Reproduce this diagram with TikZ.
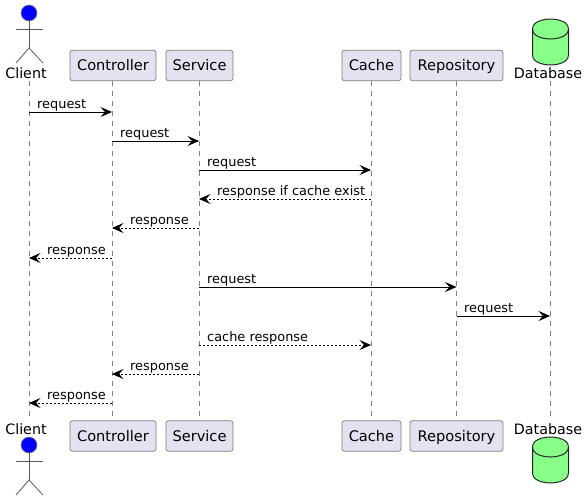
\documentclass[tikz,border=0pt]{standalone}
\usepackage{fontspec}
\setmainfont{DejaVu Sans}
\usetikzlibrary{arrows.meta}
\definecolor{partfill}{HTML}{E2E2F0}
\definecolor{partline}{HTML}{7F7F7F}
\definecolor{dbfill}{HTML}{88FF88}
\tikzset{
    part/.style={draw=partline,fill=partfill,rounded corners=2.5pt,line width=0.8pt,minimum height=30.5pt,inner sep=0pt,text height=13pt,text depth=3pt,font=\fontsize{14.6}{15}\selectfont},
    plain/.style={inner sep=0pt,font=\fontsize{14.3}{15}\selectfont},
    msgtext/.style={inner sep=0pt,anchor=base west,font=\fontsize{12.9}{13}\selectfont},
    msg/.style={line width=0.8pt,-{Stealth[length=11.5pt,width=10pt,inset=4.5pt]}},
    reply/.style={msg,dash pattern=on 2pt off 2pt},
    life/.style={draw=partline,line width=0.7pt,dash pattern=on 5pt off 5pt},
    stick/.style={draw=partline!70!black,line width=0.8pt},
    head/.style={circle,draw=partline,fill=blue,minimum size=16pt,inner sep=0pt,line width=0.6pt},
    can/.style={draw=black!85,fill=dbfill,line width=1pt}
}
\begin{document}
\begin{tikzpicture}[x=1pt,y=-1pt]
\useasboundingbox (0,0) rectangle (587,501);
% lifelines and one anchor per message row
\foreach \who/\px in {Client/29,Controller/112,Service/199,Cache/371,Repository/456.5,Database/550} {
    \coordinate (\who-top) at (\px,81);
    \coordinate (\who-bot) at (\px,418);
    \draw[life] (\who-top) -- (\who-bot);
    \foreach \row/\py in {1/112,2/141,3/170,4/199,5/228,6/258,7/287,8/316,9/345,10/374,11/403} {
        \coordinate (\who-\row) at (\px,\py);
    }
}
% boxes
\foreach \who/\px/\boxw in {Controller/113/86,Service/199.5/67,Cache/371.5/59,Repository/456.5/93} {
    \node[part,minimum width=\boxw pt] (\who-head) at (\px,65.5) {\who};
    \node[part,minimum width=\boxw pt] (\who-foot) at (\px,436) {\who};
}
% actor, top and bottom
\node[plain] (clientTop) at (26,73) {Client};
\node[head] (headTop) at (29,13) {};
\coordinate (neckTop) at (29,21);
\coordinate (hipTop) at (29,48);
\draw[stick] (neckTop) -- (hipTop);
\draw[stick] (16,29) -- (43,29);
\draw[stick] (16,63) -- (hipTop) -- (43,63);
\node[plain] (clientBot) at (26,429) {Client};
\node[head] (headBot) at (29,445) {};
\coordinate (neckBot) at (29,453);
\coordinate (hipBot) at (29,480);
\draw[stick] (neckBot) -- (hipBot);
\draw[stick] (16,461) -- (43,461);
\draw[stick] (16,495) -- (hipBot) -- (43,495);
% database, top and bottom
\node[plain] (dbTop) at (548,73) {Database};
\node[plain] (dbBot) at (548,429) {Database};
\foreach \py in {19,437} {
    \draw[can,shift={(0,\py)}] (532.5,10) .. controls (532.5,0) and (550.5,0) .. (550.5,0)
        .. controls (550.5,0) and (568.5,0) .. (568.5,10)
        -- (568.5,36) .. controls (568.5,46) and (550.5,46) .. (550.5,46)
        .. controls (550.5,46) and (532.5,46) .. (532.5,36) -- cycle;
    \draw[can,fill=none,shift={(0,\py)}] (532.5,10) .. controls (532.5,20) and (550.5,20) .. (550.5,20)
        .. controls (550.5,20) and (568.5,20) .. (568.5,10);
}
% messages
\foreach \from/\to/\row/\sty/\tx/\txt in {
    Client/Controller/1/msg/37/request,
    Controller/Service/2/msg/120/request,
    Service/Cache/3/msg/207/request,
    Cache/Service/4/reply/217/response if cache exist,
    Service/Controller/5/reply/130/response,
    Controller/Client/6/reply/47/response,
    Service/Repository/7/msg/207/request,
    Repository/Database/8/msg/464/request,
    Service/Cache/9/reply/207/cache response,
    Service/Controller/10/reply/130/response,
    Controller/Client/11/reply/47/response} {
    \draw[\sty] (\from-\row) -- (\to-\row);
    \node[msgtext] (label-\row) at ([yshift=4pt]\tx,0 |- \from-\row) {\txt};
}
\end{tikzpicture}
\end{document}
